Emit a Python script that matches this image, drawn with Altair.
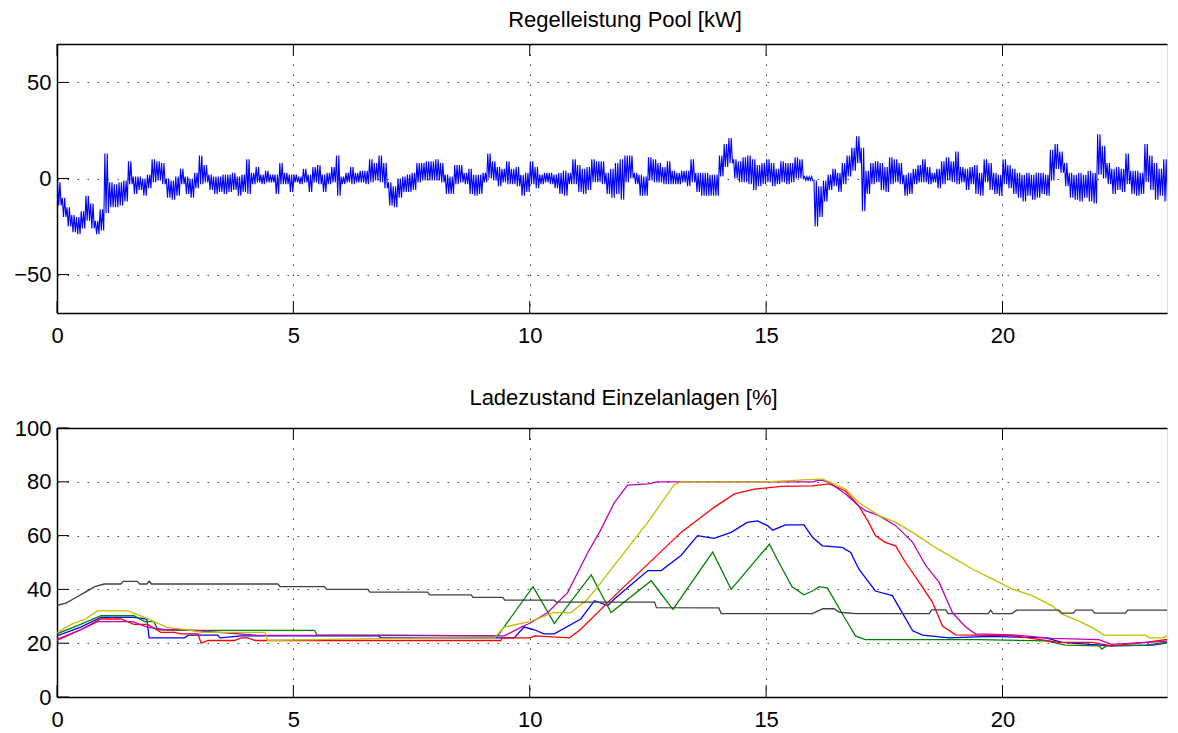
import altair as alt
import pandas as pd

FONT = "Liberation Sans"
W = 1110
H = 269
X_MAX = 23.48
X_TICKS = [0, 5, 10, 15, 20]
P_TICKS = [-50, 0, 50]
S_TICKS = [0, 20, 40, 60, 80, 100]

# ---- Regelleistung Pool [kW]: per 0.1 h bin, lowest and highest value ----
BIN = 0.1
POOL_LO = [
    -14, -20, -25, -28, -29, -26, -22, -26, -29, -27,
    -18, -15, -15, -14, -12, -3, -8, -6, -9, -5,
    -2, -1, -3, -10, -11, -9, -3, -8, -10, -5,
    -3, -2, -6, -8, -7, -8, -7, -6, -9, -7,
    -8, -3, -2, -3, -2, -2, -8, -3, -3, -7,
    -2, -3, -2, -7, -2, -3, -7, -3, -2, -9,
    -3, -2, -3, -2, -2, -3, -2, -1, -2, -5,
    -14, -15, -10, -7, -7, -6, -2, -1, -1, -1,
    -1, -2, -8, -8, -3, -2, -3, -8, -9, -8,
    -2, 0, -1, -4, -2, -3, -3, -4, -9, -7,
    -3, -5, -3, -2, -3, -5, -8, -9, -3, -3,
    -7, -8, -6, -2, -2, -3, -8, -10, -8, -11,
    -2, 0, -3, -9, -9, -1, -2, -2, -3, -3,
    -3, -3, -2, -4, -2, -7, -9, -9, -9, -9,
    1, 6, 8, 0, -2, -2, -3, -6, -4, -3,
    -2, -4, -3, -2, -3, -2, 0, 0, -1, -1,
    -25, -20, -12, -6, -4, -7, -3, 1, 4, 8,
    -17, -8, -3, -2, -6, -7, -3, -2, -3, -9,
    -8, -3, -2, -2, -3, -2, -5, -3, -1, -2,
    -3, -2, -6, -3, -8, -9, -2, -6, -8, -9,
    -3, -5, -8, -10, -12, -9, -11, -10, -8, -9,
    -1, 5, 3, -4, -10, -11, -12, -10, -12, -13,
    2, 0, -3, -8, -6, -7, -3, -8, -9, -8,
    -2, -6, -11, -9, -12, -8, -10, -12,
]
POOL_HI = [
    -2, -10, -15, -19, -20, -17, -9, -13, -22, -16,
    13, -2, -3, -2, -1, 9, 1, 1, 0, 2,
    10, 9, 8, 0, -1, 1, 5, 1, 0, 3,
    12, 7, 2, 1, 1, 2, 2, 3, 1, 2,
    10, 3, 6, 2, 4, 2, 2, 8, 3, 2,
    2, 1, 5, 2, 6, 7, 2, 3, 6, 12,
    1, 3, 6, 3, 4, 4, 10, 8, 12, 8,
    -2, -4, 0, 1, 2, 3, 8, 8, 9, 9,
    10, 8, 2, 1, 7, 7, 3, 5, 2, 2,
    3, 13, 9, 6, 5, 9, 5, 6, 2, 3,
    9, 6, 2, 3, 3, 2, 3, 4, 3, 10,
    7, 5, 6, 10, 9, 9, 3, 5, 8, 10,
    12, 12, 3, 2, 1, 11, 10, 8, 6, 9,
    4, 3, 4, 4, 10, 3, 3, 3, 2, 2,
    12, 18, 21, 10, 9, 11, 12, 10, 7, 8,
    10, 8, 5, 9, 8, 8, 11, 10, 1, 1,
    -1, -4, -1, 2, 5, 3, 8, 12, 16, 22,
    16, 4, 8, 9, 8, 6, 11, 10, 8, 2,
    3, 5, 7, 10, 6, 3, 5, 9, 11, 9,
    14, 6, 5, 6, 7, 3, 10, 8, 3, 2,
    10, 7, 5, 3, 2, 3, 2, 3, 3, 2,
    15, 18, 14, 8, 3, 2, 3, 2, 4, 3,
    23, 17, 8, 5, 6, 5, 13, 4, 4, 3,
    18, 12, 8, 5, 10, 5, 6, -2,
]
SUB = 4  # samples drawn per bin, alternating between the bin's high and low

# ---- Ladezustand Einzelanlagen [%] ----
BLUE_T = [0, 0.5, 0.93, 1.63, 1.9, 1.95, 2.7, 2.78, 3.4, 3.45, 3.9, 6.8, 6.85, 9.67, 9.88, 10.1, 10.3, 10.52,
          11.08, 11.37, 11.65, 11.79, 12.2, 12.5, 12.78, 13.2, 13.55, 13.9, 14.26, 14.6, 14.82, 15.03, 15.14,
          15.41, 15.8, 15.98, 16.19, 16.61, 16.79, 16.96, 17.31, 17.67, 18.1, 18.31, 18.87, 19.72, 20.92,
          21.26, 22.3, 23.17, 23.74]
BLUE_V = [22.7, 26, 29.6, 29.6, 29, 22, 22, 23, 23, 22, 22.7, 22.7, 22, 22, 26, 25, 23.5, 23.5,
          29, 35.8, 34, 36.4, 42.6, 47, 47, 52.6, 60, 59, 61.2, 64.9, 65.5, 63.7, 62,
          64, 64, 59.4, 56.2, 55.6, 53.7, 47.6, 39.4, 37.7, 24.6, 23, 22, 22.5, 22,
          20.3, 19, 19.3, 20.9]

GREEN_T = [0, 0.5, 0.93, 1.63, 1.85, 2.05, 2.13, 2.62, 5.45, 5.5, 7.0, 9.32, 10.07, 10.52, 11.3, 11.72,
           12.57, 13.03, 13.87, 14.26, 15.07, 15.27, 15.55, 15.8, 15.98, 16.12, 16.3, 16.68, 16.89, 17.1,
           19.5, 20.92, 21.33, 22.05, 22.1, 22.2, 23.03, 23.74]
GREEN_V = [23.5, 27, 30.2, 30.2, 28, 28, 25, 24.8, 24.8, 23, 23, 22.7, 41, 27.4, 45.4, 31.4,
           43.2, 32.6, 53.9, 40, 56.8, 50, 41, 38, 39.4, 41, 40.5, 28.9, 22.7, 21.3,
           21.3, 20.9, 19.3, 19, 17.8, 19, 19.3, 20.9]

RED_T = [0, 0.5, 0.93, 1.35, 1.63, 1.92, 2.2, 2.48, 2.62, 2.98, 3.05, 3.2, 3.75, 3.9, 4.03, 4.2, 9.39, 9.42,
         10.0, 10.1, 10.84, 11.08, 11.79, 12.5, 13.2, 13.9, 14.33, 14.75, 15.32, 15.98, 16.33, 16.68, 16.96,
         17.17, 17.31, 17.52, 17.74, 17.95, 18.24, 18.52, 18.73, 19.01, 20.21, 21.2, 21.9, 22.3, 23.03, 23.74]
RED_V = [21, 25, 29, 29, 27, 27, 24, 24, 23.5, 23.5, 20, 21, 21, 22, 22, 21, 21, 22,
         22, 22.7, 22, 25.2, 37.6, 49.4, 61.2, 70.5, 75.5, 77.3, 78.3, 78.5, 79.2, 76.6, 71,
         64.9, 60, 57.5, 56.2, 50, 42.6, 35.2, 26.4, 23.1, 22.8, 20.3, 20.3, 19, 20.3, 22]

MAGENTA_T = [0, 0.5, 0.86, 1.6, 1.9, 2.3, 2.7, 4.2, 9.46, 9.82, 10.0, 10.38, 10.8, 11.23, 11.51, 11.79, 12.07,
             12.5, 12.7, 15.98, 16.1, 16.2, 16.33, 16.68, 16.96, 17.1, 17.39, 17.74, 18.1, 18.38, 18.66,
             18.94, 19.22, 19.43, 20.21, 21.05, 22.04, 22.3, 23.03, 23.74]
MAGENTA_V = [21.5, 25, 28, 28, 26, 25, 25, 23, 22.7, 26, 27.4, 31.4, 38.8, 53.7, 62.4, 72.3, 78.8,
             79.2, 80, 80, 80.5, 80.5, 79.8, 75.5, 71, 69.3, 67.4, 63.7, 57.5, 48.8, 42.6,
             31.4, 26, 23.5, 23.1, 21.8, 21.3, 19.6, 20.3, 20.9]

YELLOW_T = [0, 0.3, 0.6, 0.86, 1.5, 1.85, 2.34, 2.76, 3.05, 4.4, 4.45, 6.0, 8.0, 9.25, 9.46, 10.0, 10.5,
            10.87, 11.2, 11.44, 11.79, 12.5, 13.06, 13.2, 15.0, 16.1, 16.2, 16.33, 16.68, 16.96, 17.39,
            17.74, 18.1, 18.52, 18.94, 19.36, 19.79, 20.21, 20.63, 21.05, 21.26, 21.62, 21.9, 22.15,
            23.03, 23.1, 23.38, 23.6, 23.74]
YELLOW_V = [24, 27, 29, 32, 32, 29.6, 25.8, 25, 24, 24, 21, 21.5, 22, 22, 26, 28, 31.4,
            31.4, 36, 41, 49, 65, 79, 80, 80, 81, 81, 80, 77.3, 72.3, 67.4,
            64.9, 61.2, 56.2, 51.9, 47.6, 43.8, 40.1, 37.7, 33.9, 30.8, 28.2, 25.8, 23,
            23, 22, 22, 23.5, 23.5]

GRAY_T = [0, 0.2, 0.4, 0.6, 0.8, 1.0, 1.35, 1.4, 1.7, 1.75, 1.9, 1.95, 2.0, 4.67, 4.72, 5.66, 5.7, 6.57,
          6.62, 7.84, 7.88, 8.76, 8.8, 9.43, 9.47, 10.52, 10.56, 12.64, 12.68, 14.0, 14.05, 15.98, 16.1,
          16.2, 16.44, 16.55, 16.9, 18.45, 18.5, 18.8, 18.85, 19.7, 19.75, 19.8, 20.2, 20.3, 21.2, 21.25,
          21.5, 21.55, 21.9, 21.95, 22.6, 22.65, 23.74]
GRAY_V = [34, 35, 37, 39, 41, 42, 42, 43, 43, 42, 42, 43, 42, 42, 41, 41, 40, 40,
          39, 39, 38, 38, 37, 37, 36, 36, 35.3, 35.3, 33.2, 33.1, 31, 31, 32,
          32.8, 32.8, 31.5, 31, 31, 32.4, 32.4, 31, 31, 32.3, 31, 31, 32.3, 32.3, 31.2,
          31.2, 32.3, 32.3, 31.2, 31.2, 32.3, 32.3]

SERIES = [
    ("b", BLUE_T, BLUE_V),
    ("g", GREEN_T, GREEN_V),
    ("r", RED_T, RED_V),
    ("m", MAGENTA_T, MAGENTA_V),
    ("y", YELLOW_T, YELLOW_V),
    ("k", GRAY_T, GRAY_V),
]
SERIES_NAMES = ["b", "g", "r", "m", "y", "k"]
SERIES_COLORS = ["#0000ff", "#008000", "#ff0000", "#bf00bf", "#bfbf00", "#404040"]

# ---------------- tables ----------------
pool_rows = []
k = 0
for i, (lo, hi) in enumerate(zip(POOL_LO, POOL_HI)):
    t0 = i * BIN
    for j in range(SUB):
        pool_rows.append({"t": t0 + BIN * (j + 0.5) / SUB, "p": hi if k % 2 == 0 else lo, "o": k})
        k += 1
pool_df = pd.DataFrame(pool_rows)

soc_rows = []
for name, ts, vs in SERIES:
    for j, (t, v) in enumerate(zip(ts, vs)):
        soc_rows.append({"t": t, "v": v, "s": name, "o": j})
soc_df = pd.DataFrame(soc_rows)

xs = alt.Scale(domain=[0, X_MAX], nice=False, zero=False)


def x_axis():
    return alt.Axis(values=X_TICKS, title=None, labelFontSize=22, labelFont=FONT, labelColor="black",
                    labelPadding=12, labelFlush=False, ticks=False, tickSize=0, domain=True,
                    domainColor="black", domainWidth=1.5, grid=True, gridColor="black",
                    gridOpacity=0.75, gridDash=[1.5, 8.5], gridWidth=1, minExtent=36, maxExtent=36)


def y_axis(vals):
    return alt.Axis(values=vals, title=None, labelFontSize=22, labelFont=FONT, labelColor="black",
                    labelPadding=6, labelFlush=False, ticks=False, tickSize=0, domain=True,
                    domainColor="black", domainWidth=1.5, grid=True, gridColor="black",
                    gridOpacity=0.75, gridDash=[1.5, 8.5], gridWidth=1, minExtent=48, maxExtent=48)


def frame_layers(yscale, yticks):
    xt = pd.DataFrame({"t": X_TICKS})
    yt = pd.DataFrame({"v": yticks})
    top_ticks = alt.Chart(xt).mark_rule(color="black", strokeWidth=1).encode(
        x=alt.X("t:Q", scale=xs, axis=alt.Axis(orient="top", labels=False, ticks=False, grid=False,
                                               domain=True, domainColor="black", domainWidth=1.5,
                                               title=None, minExtent=0, maxExtent=0)),
        y=alt.value(0), y2=alt.value(12))
    bottom_ticks = alt.Chart(xt).mark_rule(color="black", strokeWidth=1).encode(
        x=alt.X("t:Q", scale=xs, axis=None), y=alt.value(H), y2=alt.value(H - 12))
    left_ticks = alt.Chart(yt).mark_rule(color="black", strokeWidth=1).encode(
        y=alt.Y("v:Q", scale=yscale, axis=y_axis(yticks)), x=alt.value(0), x2=alt.value(12))
    return [top_ticks, bottom_ticks, left_ticks]


def title(text, offset, dx):
    return alt.TitleParams(text, fontSize=22, font=FONT, fontWeight="normal", color="black",
                           anchor="middle", frame="group", offset=offset, dx=dx)


p_scale = alt.Scale(domain=[-70, 70], nice=False, zero=False)
s_scale = alt.Scale(domain=[0, 100], nice=False, zero=False)

pool_line = alt.Chart(pool_df).mark_line(color="#0000ff", strokeWidth=1.1, clip=True).encode(
    x=alt.X("t:Q", scale=xs, axis=x_axis()),
    y=alt.Y("p:Q", scale=p_scale, axis=y_axis(P_TICKS)),
    order="o:Q",
)
top = alt.layer(pool_line, *frame_layers(p_scale, P_TICKS)).resolve_axis(x="independent").properties(
    width=W, height=H, title=title("Regelleistung Pool [kW]", 11.5, 13))

soc_lines = alt.Chart(soc_df).mark_line(strokeWidth=1.3, clip=True).encode(
    x=alt.X("t:Q", scale=xs, axis=x_axis()),
    y=alt.Y("v:Q", scale=s_scale, axis=y_axis(S_TICKS)),
    color=alt.Color("s:N", scale=alt.Scale(domain=SERIES_NAMES, range=SERIES_COLORS), legend=None),
    order="o:Q",
)
bottom = alt.layer(soc_lines, *frame_layers(s_scale, S_TICKS)).resolve_axis(x="independent").properties(
    width=W, height=H, title=title("Ladezustand Einzelanlagen [%]", 6.7, 11.5))

chart = alt.vconcat(top, bottom, spacing=36).properties(padding=0).configure_view(
    stroke="transparent", strokeWidth=0, strokeOpacity=0).configure(font=FONT)

chart.save("out.html", embed_options={"renderer": "svg", "actions": False})
